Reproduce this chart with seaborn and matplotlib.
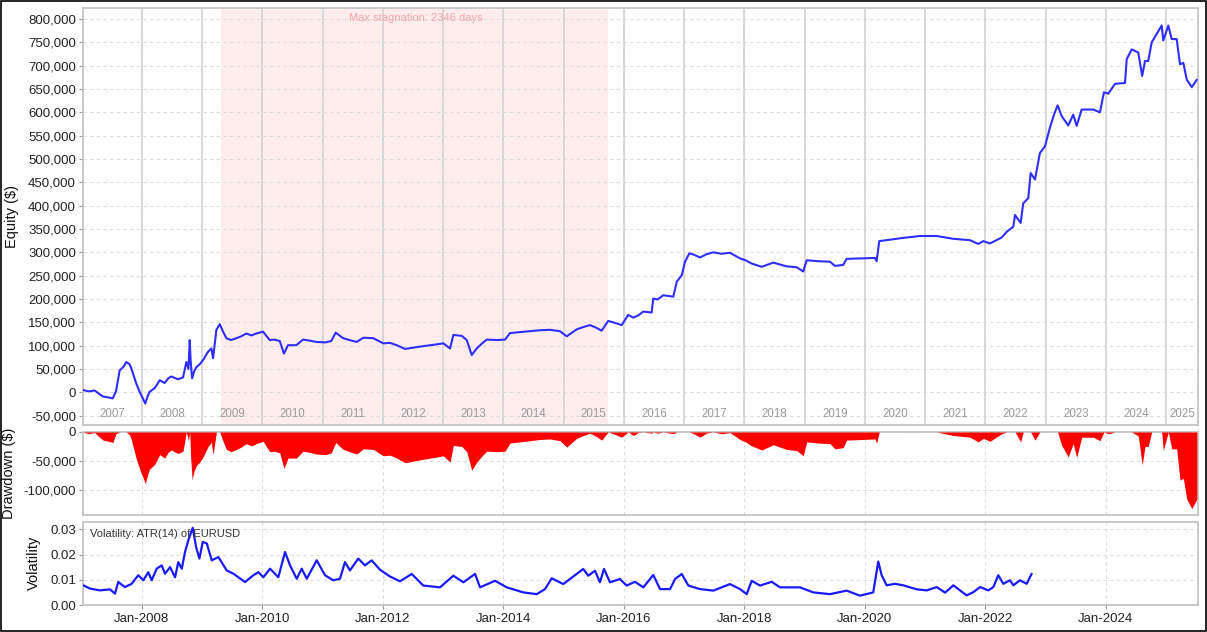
import numpy as np
import pandas as pd
import matplotlib
matplotlib.use("Agg")
import matplotlib.pyplot as plt
import matplotlib.dates as mdates
import matplotlib.ticker as mticker
from matplotlib.patches import Rectangle
import seaborn as sns

# ---------------- data ----------------
eq_years = [2007.026, 2007.12, 2007.22, 2007.30, 2007.36, 2007.45, 2007.52, 2007.574, 2007.635, 2007.70,
            2007.745, 2007.80, 2007.827, 2007.91, 2007.97, 2008.02, 2008.06, 2008.10, 2008.13, 2008.216,
            2008.30, 2008.38, 2008.44, 2008.49, 2008.60, 2008.685, 2008.74, 2008.775, 2008.796, 2008.81,
            2008.835, 2008.87, 2008.906, 2008.96, 2009.017, 2009.10, 2009.155, 2009.183, 2009.238, 2009.294,
            2009.349, 2009.404, 2009.48, 2009.57, 2009.65, 2009.735, 2009.82, 2009.90, 2010.013, 2010.124,
            2010.20, 2010.29, 2010.36, 2010.427, 2010.565, 2010.676, 2010.78, 2010.897, 2011.05, 2011.146,
            2011.22, 2011.31, 2011.345, 2011.45, 2011.567, 2011.677, 2011.843, 2012.009, 2012.12, 2012.231,
            2012.369, 2012.52, 2012.672, 2012.85, 2013.004, 2013.115, 2013.17, 2013.31, 2013.392, 2013.475,
            2013.558, 2013.64, 2013.724, 2013.90, 2014.028, 2014.111, 2014.28, 2014.443, 2014.60, 2014.775,
            2014.94, 2015.052, 2015.218, 2015.33, 2015.438, 2015.55, 2015.632, 2015.742, 2015.85, 2015.964,
            2016.074, 2016.157, 2016.24, 2016.322, 2016.462, 2016.488, 2016.56, 2016.654, 2016.82, 2016.877,
            2016.96, 2017.014, 2017.086, 2017.16, 2017.264, 2017.37, 2017.484, 2017.62, 2017.761, 2017.927,
            2018.02, 2018.12, 2018.287, 2018.48, 2018.70, 2018.868, 2018.977, 2019.034, 2019.22, 2019.42,
            2019.503, 2019.64, 2019.697, 2019.93, 2020.166, 2020.195, 2020.238, 2020.35, 2020.47, 2020.636,
            2020.913, 2021.19, 2021.466, 2021.743, 2021.88, 2021.964, 2022.075, 2022.27, 2022.352, 2022.462,
            2022.49, 2022.584, 2022.627, 2022.71, 2022.75, 2022.822, 2022.904, 2022.987, 2023.07, 2023.137,
            2023.198, 2023.265, 2023.374, 2023.457, 2023.514, 2023.597, 2023.79, 2023.90, 2023.967, 2024.038,
            2024.15, 2024.316, 2024.344, 2024.427, 2024.536, 2024.60, 2024.647, 2024.70, 2024.758, 2024.84,
            2024.923, 2024.95, 2025.033, 2025.09, 2025.172, 2025.227, 2025.282, 2025.34, 2025.423, 2025.506]
eq_k = [5, 2, 4, -4, -9, -11, -13, 2, 47, 55,
        65, 60, 52, 19, 0, -13, -24, -8, 1, 9,
        26, 20, 30, 34, 28, 32, 65, 50, 112, 70,
        30, 45, 54, 60, 69, 87, 94, 73, 134, 146,
        130, 116, 112, 116, 120, 126, 122, 126, 130, 112,
        113, 110, 83, 101, 101, 113, 111, 108, 107, 110,
        128, 119, 116, 112, 108, 117, 116, 105, 106, 101,
        93, 96, 99, 102, 105, 94, 123, 121, 112, 80,
        94, 104, 113, 112, 113, 127, 129, 131, 133, 134,
        131, 120, 135, 140, 144, 138, 132, 153, 149, 144,
        166, 160, 165, 173, 171, 201, 199, 208, 205, 237,
        251, 280, 298, 295, 289, 296, 300, 297, 299, 287,
        283, 276, 269, 278, 270, 268, 259, 283, 281, 280,
        271, 273, 286, 287, 288, 281, 324, 326, 328, 331,
        335, 335, 329, 326, 318, 324, 319, 332, 344, 355,
        380, 363, 405, 416, 470, 456, 513, 527, 567, 595,
        615, 592, 572, 595, 571, 606, 606, 600, 643, 640,
        661, 663, 714, 735, 728, 678, 710, 710, 750, 768,
        786, 754, 786, 757, 757, 703, 706, 670, 654, 670]

vol_years = [2007.031, 2007.142, 2007.308, 2007.474, 2007.557, 2007.612, 2007.723, 2007.834, 2007.944, 2008.027,
             2008.110, 2008.166, 2008.249, 2008.332, 2008.387, 2008.470, 2008.553, 2008.607, 2008.664, 2008.718,
             2008.773, 2008.846, 2008.901, 2008.956, 2009.012, 2009.078, 2009.161, 2009.271, 2009.410, 2009.520,
             2009.603, 2009.714, 2009.852, 2009.935, 2010.018, 2010.129, 2010.266, 2010.378, 2010.461, 2010.572,
             2010.655, 2010.738, 2010.904, 2011.041, 2011.179, 2011.290, 2011.373, 2011.456, 2011.594, 2011.705,
             2011.816, 2011.954, 2012.120, 2012.286, 2012.480, 2012.672, 2012.949, 2013.170, 2013.336, 2013.530,
             2013.613, 2013.862, 2014.056, 2014.332, 2014.554, 2014.692, 2014.803, 2014.995, 2015.327, 2015.410,
             2015.521, 2015.604, 2015.671, 2015.770, 2015.936, 2016.047, 2016.185, 2016.323, 2016.488, 2016.600,
             2016.766, 2016.849, 2016.960, 2017.069, 2017.264, 2017.484, 2017.761, 2017.927, 2018.038, 2018.121,
             2018.259, 2018.453, 2018.591, 2018.922, 2019.143, 2019.420, 2019.697, 2019.918, 2020.139, 2020.222,
             2020.278, 2020.361, 2020.499, 2020.637, 2020.859, 2021.025, 2021.191, 2021.330, 2021.466, 2021.688,
             2021.798, 2021.909, 2022.047, 2022.130, 2022.213, 2022.296, 2022.407, 2022.462, 2022.573, 2022.684,
             2022.767]
vol_values = [0.0078, 0.0065, 0.0058, 0.0062, 0.0045, 0.0091, 0.0071, 0.0084, 0.0118, 0.0098,
              0.0130, 0.0098, 0.0144, 0.0157, 0.0124, 0.0150, 0.0110, 0.0170, 0.0144, 0.0210,
              0.0257, 0.0306, 0.0230, 0.0184, 0.0250, 0.0244, 0.0177, 0.0190, 0.0137, 0.0124,
              0.0110, 0.0091, 0.0118, 0.0130, 0.0110, 0.0144, 0.0110, 0.0210, 0.0157, 0.0104,
              0.0144, 0.0104, 0.0177, 0.0118, 0.0098, 0.0104, 0.0170, 0.0137, 0.0184, 0.0157,
              0.0177, 0.0140, 0.0113, 0.0094, 0.0123, 0.0077, 0.0070, 0.0116, 0.0090, 0.0123,
              0.0070, 0.0096, 0.0070, 0.0050, 0.0043, 0.0063, 0.0106, 0.0083, 0.0143, 0.0116,
              0.0136, 0.0090, 0.0143, 0.0090, 0.0103, 0.0077, 0.0092, 0.0070, 0.0119, 0.0063,
              0.0063, 0.0103, 0.0123, 0.0077, 0.0063, 0.0057, 0.0083, 0.0063, 0.0043, 0.0096,
              0.0077, 0.0092, 0.0070, 0.0070, 0.0050, 0.0043, 0.0057, 0.0037, 0.0050, 0.0172,
              0.0118, 0.0078, 0.0084, 0.0078, 0.0062, 0.0058, 0.0071, 0.0049, 0.0078, 0.0038,
              0.0051, 0.0071, 0.0058, 0.0071, 0.0118, 0.0084, 0.0098, 0.0078, 0.0098, 0.0084,
              0.0124]

stagnation_start = 2009.316
stagnation_end = 2015.737
stagnation_text = "Max stagnation: 2346 days"
vol_note = "Volatility: ATR(14) of EURUSD"
year_labels = list(range(2007, 2026))
x_start, x_end = 2007.026, 2025.526


def yr2dt(y):
    yr = int(np.floor(y))
    a = pd.Timestamp(yr, 1, 1)
    b = pd.Timestamp(yr + 1, 1, 1)
    return a + (b - a) * (y - yr)


eq_dates = [yr2dt(v) for v in eq_years]
vol_dates = [yr2dt(v) for v in vol_years]
equity = np.array(eq_k, dtype=float) * 1000.0
drawdown = equity - np.maximum.accumulate(equity)

df_eq = pd.DataFrame({"date": eq_dates, "equity": equity, "dd": drawdown})
df_vol = pd.DataFrame({"date": vol_dates, "vol": vol_values})

# ---------------- style ----------------
sns.set_theme(style="white")
plt.rcParams["font.family"] = ["Liberation Sans", "DejaVu Sans"]
plt.rcParams["axes.edgecolor"] = "#c4c4c4"
plt.rcParams["axes.linewidth"] = 1.3

W, H = 1207, 632
fig = plt.figure(figsize=(W / 100, H / 100), dpi=100)
fig.patch.set_facecolor("white")


def box(l, t, r, b):
    return [l / W, 1 - b / H, (r - l) / W, (b - t) / H]


ax1 = fig.add_axes(box(83, 8, 1198, 425))
ax2 = fig.add_axes(box(83, 432, 1198, 515), sharex=ax1)
ax3 = fig.add_axes(box(83, 522, 1198, 605), sharex=ax1)

blue = "#2e2eff"
grid_kw = dict(color="#dcdcdc", linestyle=(0, (3, 3)), linewidth=0.8)
tick_color = "#222222"

# ---- equity panel ----
ax1.axvspan(yr2dt(stagnation_start), yr2dt(stagnation_end), color="#ffeded", zorder=0, lw=0)
for y in year_labels[1:]:
    ax1.axvline(pd.Timestamp(y, 1, 1), color="#d6d6d6", lw=1.3, zorder=1)
sns.lineplot(data=df_eq, x="date", y="equity", ax=ax1, color=blue, linewidth=1.5,
             estimator=None, sort=False, zorder=3)
ax1.set_ylim(-70000, 823600)
ax1.yaxis.set_major_locator(mticker.MultipleLocator(50000))
ax1.yaxis.set_major_formatter(mticker.FuncFormatter(lambda v, p: f"{v:,.0f}"))
ax1.grid(True, axis="both", **grid_kw)
ax1.set_axisbelow(True)

xs, xe = yr2dt(x_start), yr2dt(x_end)
for y in year_labels:
    a = max(pd.Timestamp(y, 1, 1), xs)
    b = min(pd.Timestamp(y + 1, 1, 1), xe)
    mid = a + (b - a) / 2
    ax1.text(mid, 0.026, str(y), transform=ax1.get_xaxis_transform(), ha="center", va="center",
             fontsize=8.3, color="#9a9a9a", zorder=4)

ax1.text(0.2985, 0.976, stagnation_text, transform=ax1.transAxes, ha="center", va="center",
         fontsize=8, color="#f3a6a6", zorder=4)

# ---- drawdown panel ----
ax2.fill_between(df_eq["date"], df_eq["dd"], 0, color="#ff0000", lw=0, zorder=3)
ax2.set_ylim(-143100, 0)
ax2.yaxis.set_major_locator(mticker.MultipleLocator(50000))
ax2.yaxis.set_major_formatter(mticker.FuncFormatter(lambda v, p: f"{v:,.0f}"))
ax2.grid(True, axis="both", **grid_kw)
ax2.set_axisbelow(True)

# ---- volatility panel ----
sns.lineplot(data=df_vol, x="date", y="vol", ax=ax3, color="#1a1aff", linewidth=1.6,
             estimator=None, sort=False, zorder=3)
ax3.set_ylim(0, 0.0329)
ax3.yaxis.set_major_locator(mticker.MultipleLocator(0.01))
ax3.yaxis.set_major_formatter(mticker.FormatStrFormatter("%.2f"))
ax3.grid(True, axis="both", **grid_kw)
ax3.set_axisbelow(True)
ax3.text(0.006, 0.86, vol_note, transform=ax3.transAxes, ha="left", va="center",
         fontsize=8, color="#333333", zorder=4)

# ---- shared x axis ----
ax3.set_xlim(xs, xe)
ax3.xaxis.set_major_locator(mdates.YearLocator(base=2, month=1, day=1))
ax3.xaxis.set_major_formatter(mdates.DateFormatter("%b-%Y"))

for ax in (ax1, ax2, ax3):
    ax.set_xlabel("")
    ax.set_ylabel("")
    ax.tick_params(axis="y", which="major", left=True, length=3, width=0.8, color="#999999",
                   labelsize=9.5, labelcolor=tick_color, pad=2)
    ax.tick_params(axis="x", which="major", bottom=True, length=3, width=0.8, color="#999999",
                   labelsize=9.5, labelcolor=tick_color, pad=3)
for ax in (ax1, ax2):
    ax.tick_params(axis="x", labelbottom=False, bottom=False)

fig.text(12 / W, 1 - 216 / H, "Equity ($)", rotation=90, ha="center", va="center", fontsize=10.5, color="#111111")
fig.text(9 / W, 1 - 473 / H, "Drawdown ($)", rotation=90, ha="center", va="center", fontsize=10.5, color="#111111")
fig.text(34 / W, 1 - 563 / H, "Volatility", rotation=90, ha="center", va="center", fontsize=10.5, color="#111111")

fig.patches.append(Rectangle((0.0008, 0.0015), 0.9984, 0.997, transform=fig.transFigure,
                             fill=False, edgecolor="black", linewidth=1.2))

fig.savefig("out.png", dpi=100)
